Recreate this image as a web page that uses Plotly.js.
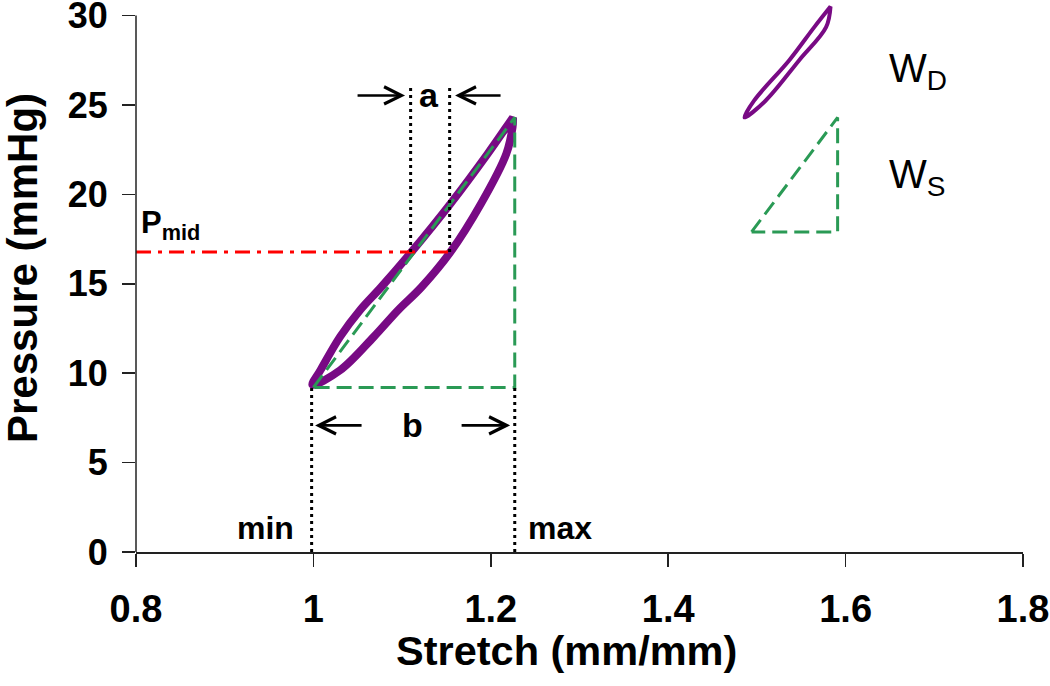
<!DOCTYPE html>
<html>
<head>
<meta charset="utf-8">
<script src="https://cdn.plot.ly/plotly-3.0.1.min.js"></script>
<style>html,body{margin:0;padding:0;background:#fff;}#chart{width:1050px;height:686px;}</style>
</head>
<body>
<div id="chart"></div>
<script>
// ---- data ----
const loopP       = [9.35, 10.17, 12.03, 13.52, 14.82, 16.78, 19.48, 22.27, 23.76, 24.3];
const loopUpperX  = [0.999, 1.008, 1.030, 1.0525, 1.0765, 1.1106, 1.1546, 1.1965, 1.2175, 1.225];
const loopLowerX  = [0.999, 1.0303, 1.068, 1.0954, 1.122, 1.1546, 1.189, 1.2175, 1.2245, 1.225];

const keyLoopP      = [24.3, 25.25, 27.5, 29.35, 30.5];
const keyLoopUpperX = [1.486, 1.497, 1.5365, 1.5647, 1.583];
const keyLoopLowerX = [1.486, 1.510, 1.5477, 1.578, 1.583];

const stretchMin = 0.998, stretchMax = 1.227;
const pressMin = 9.2, pressMax = 24.3;
const pMid = 16.78;
const aLeftX = 1.1096, aRightX = 1.1536, aTopP = 26.1;

const keyTriX = [1.494, 1.591, 1.591, 1.494];
const keyTriP = [17.9, 24.3, 17.9, 17.9];

const xTicks = [0.8, 1, 1.2, 1.4, 1.6, 1.8];
const xTickText = ['0.8', '1', '1.2', '1.4', '1.6', '1.8'];
const yTicks = [0, 5, 10, 15, 20, 25, 30];
const yTickText = ['0', '5', '10', '15', '20', '25', '30'];
const xTitle = 'Stretch (mm/mm)';
const yTitle = 'Pressure (mmHg)';

// ---- build ----
const purple = '#780A84', green = '#2A9A55';
const loopX = loopUpperX.concat(loopLowerX.slice().reverse());
const loopY = loopP.concat(loopP.slice().reverse());
const keyX = keyLoopUpperX.concat(keyLoopLowerX.slice().reverse());
const keyY = keyLoopP.concat(keyLoopP.slice().reverse());

const dotted = {color: '#000', width: 3, dash: '3px,4px'};
const traces = [
  {x: loopX, y: loopY, mode: 'lines', line: {color: purple, width: 8, shape: 'spline', smoothing: 1}},
  {x: keyX, y: keyY, mode: 'lines', line: {color: purple, width: 4, shape: 'spline', smoothing: 1}},
  {x: [stretchMin + 0.002, stretchMax, stretchMax, stretchMin + 0.002], y: [pressMin, pressMax, pressMin, pressMin],
   mode: 'lines', line: {color: green, width: 3, dash: '15px,7px'}},
  {x: keyTriX, y: keyTriP, mode: 'lines', line: {color: green, width: 3, dash: '15px,7px'}},
  {x: [0.8, aRightX], y: [pMid, pMid], mode: 'lines', line: {color: '#FF0000', width: 3, dash: '15px,7px,4px,7px'}},
  {x: [stretchMin, stretchMin], y: [0, pressMin], mode: 'lines', line: dotted},
  {x: [stretchMax, stretchMax], y: [0, pressMin], mode: 'lines', line: dotted},
  {x: [aLeftX, aLeftX], y: [pMid, aTopP], mode: 'lines', line: dotted},
  {x: [aRightX, aRightX], y: [pMid, aTopP], mode: 'lines', line: dotted}
];
traces.forEach(t => { t.showlegend = false; t.hoverinfo = 'skip'; });

const F = 'Liberation Sans, Arial, sans-serif';
const boldF = (s) => ({family: F, size: s, color: '#000', weight: 'bold'});
function arrow(hx, hy, tx, ty) {
  return {x: hx, y: hy, ax: tx, ay: ty, xref: 'x', yref: 'y', axref: 'x', ayref: 'y',
          text: '', showarrow: true, arrowhead: 5, arrowsize: 1.3, arrowwidth: 2.6, arrowcolor: '#000', standoff: 0};
}
const annotations = [
  arrow(1.1033, 25.53, 1.0481, 25.53),
  arrow(1.1597, 25.53, 1.2127, 25.53),
  arrow(1.0019, 7.08, 1.056, 7.08),
  arrow(1.2217, 7.08, 1.1654, 7.08),
  {x: 1.1304, y: 25.53, text: 'a', showarrow: false, font: boldF(34), xanchor: 'center', yanchor: 'middle'},
  {x: 1.1116, y: 7.08, text: 'b', showarrow: false, font: boldF(34), xanchor: 'center', yanchor: 'middle'},
  {x: 0.9455, y: 1.32, text: 'min', showarrow: false, font: boldF(32), xanchor: 'center', yanchor: 'middle'},
  {x: 1.2781, y: 1.32, text: 'max', showarrow: false, font: boldF(32), xanchor: 'center', yanchor: 'middle'},
  {x: 0.803, y: pMid + 0.3, text: 'P<sub>mid</sub>', showarrow: false, font: boldF(31), xanchor: 'left', yanchor: 'bottom'},
  {x: 1.6467, y: 26.9, text: 'W<sub>D</sub>', showarrow: false, font: {family: F, size: 40, color: '#000'}, xanchor: 'left', yanchor: 'middle'},
  {x: 1.6467, y: 20.98, text: 'W<sub>S</sub>', showarrow: false, font: {family: F, size: 40, color: '#000'}, xanchor: 'left', yanchor: 'middle'},
  // axis titles placed to match the reference
  {xref: 'paper', yref: 'paper', x: 0.4848, y: -0.179, text: xTitle, showarrow: false, font: boldF(41.5), xanchor: 'center', yanchor: 'middle'},
  {xref: 'paper', yref: 'paper', x: -0.1285, y: 0.5173, text: yTitle, textangle: -90, showarrow: false, font: boldF(42), xanchor: 'center', yanchor: 'middle'}
];

const layout = {
  width: 1050, height: 686,
  margin: {l: 136, r: 27, t: 3, b: 134},
  paper_bgcolor: '#fff', plot_bgcolor: '#fff',
  showlegend: false,
  xaxis: {
    range: [0.8, 1.8], tickvals: xTicks, ticktext: xTickText,
    showgrid: false, zeroline: false, showline: true, linecolor: '#222', linewidth: 1.5,
    ticks: 'outside', ticklen: 13, tickwidth: 1.5, tickcolor: '#222',
    tickfont: boldF(38), ticklabelstandoff: 10, ticklabeloverflow: 'allow'
  },
  yaxis: {
    range: [0, 30.7], tickvals: yTicks, ticktext: yTickText,
    showgrid: false, zeroline: false, showline: false,
    ticks: 'outside', ticklen: 13, tickwidth: 1.5, tickcolor: '#222',
    tickfont: boldF(36), ticklabelstandoff: 7, ticklabeloverflow: 'allow'
  },
  shapes: [
    {type: 'line', xref: 'paper', yref: 'paper', x0: 0, x1: 0, y0: 0, y1: 30 / 30.7, line: {color: '#222', width: 1.5}}
  ],
  annotations: annotations
};

Plotly.newPlot('chart', traces, layout, {staticPlot: true, displayModeBar: false});
</script>
</body>
</html>
